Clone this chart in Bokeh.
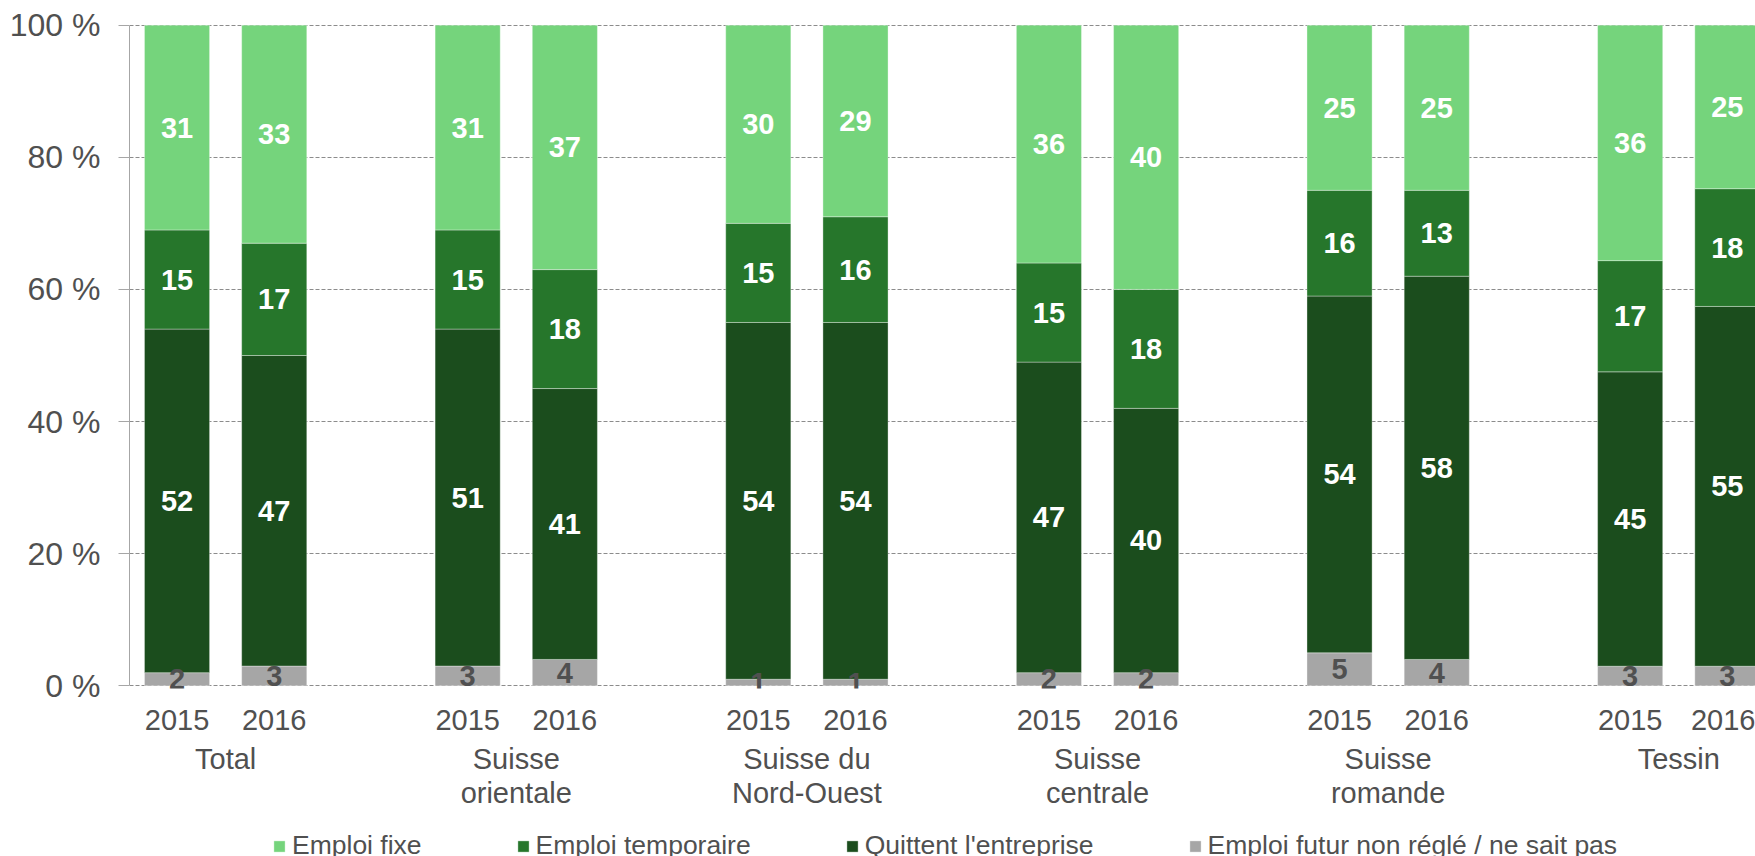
from bokeh.plotting import figure
from bokeh.models import (ColumnDataSource, LinearAxis, FixedTicker, Range1d,
                          Legend, LegendItem)
from bokeh.layouts import column
from bokeh.embed import file_html
from bokeh.resources import INLINE
from bokeh.core.properties import value

# ---------------- data ----------------
regions = ["Total", "Suisse\norientale", "Suisse du\nNord-Ouest",
           "Suisse\ncentrale", "Suisse\nromande", "Tessin"]
years = ["2015", "2016"]
series = ["Emploi fixe", "Emploi temporaire", "Quittent l'entreprise",
          "Emploi futur non réglé / ne sait pas"]

# one value per bar: Total 2015, Total 2016, S. orientale 2015, ...
non_regle = [2, 3, 3, 4, 1, 1, 2, 2, 5, 4, 3, 3]
quittent = [52, 47, 51, 41, 54, 54, 47, 40, 54, 58, 45, 55]
temporaire = [15, 17, 15, 18, 15, 16, 15, 18, 16, 13, 17, 18]
fixe = [31, 33, 31, 37, 30, 29, 36, 40, 25, 25, 36, 25]

y_ticks = [0, 20, 40, 60, 80, 100]

# ---------------- style / layout ----------------
COLORS = {"fixe": "#75D47C", "temp": "#26762B", "quit": "#1B4D1D", "nr": "#A6A6A6"}
TEXT = "#505050"
FONT = "Liberation Sans"
GROUP_STEP = 299   # x units between groups
BAR_STEP = 100     # x units between the two bars of a group
BAR_W = 67
PX_PER_UNIT = 0.972
FRAME_W = 1626
FRAME_H = 667
X0 = -48.9
MAIN_BOTTOM = 135
LEGEND_H = 39

xs, year_lab = [], []
for g in range(len(regions)):
    for k, yr in enumerate(years):
        xs.append(g * GROUP_STEP + k * BAR_STEP)
        year_lab.append(yr)
group_x = [g * GROUP_STEP + BAR_STEP // 2 for g in range(len(regions))]

# stack (normalised to 100 % as in a 100 % stacked chart)
layers = [("nr", non_regle), ("quit", quittent), ("temp", temporaire), ("fixe", fixe)]
totals = [sum(v[i] for _, v in layers) for i in range(len(xs))]

p = figure(frame_width=FRAME_W, frame_height=FRAME_H,
           output_backend="svg", toolbar_location=None,
           x_range=Range1d(X0, X0 + FRAME_W / PX_PER_UNIT),
           y_range=Range1d(-0.4, 100.55),
           x_axis_location=None, y_axis_location="left",
           min_border_left=129, min_border_right=0,
           min_border_top=21, min_border_bottom=MAIN_BOTTOM)
p.outline_line_color = None
p.background_fill_color = "white"
p.border_fill_color = "white"
p.xgrid.visible = False

p.ygrid.ticker = FixedTicker(ticks=y_ticks)
p.ygrid.grid_line_color = "#8C8C8C"
p.ygrid.grid_line_dash = "4 2"
p.ygrid.grid_line_width = 1

yax = p.yaxis[0]
yax.ticker = FixedTicker(ticks=y_ticks)
yax.major_label_overrides = {t: f"{t} %" for t in y_ticks}
yax.bounds = (0, 100)
yax.axis_line_color = "#A6A6A6"
yax.major_tick_line_color = "#A6A6A6"
yax.major_tick_out = 11
yax.major_tick_in = 0
yax.minor_tick_line_color = None
yax.major_label_standoff = 18
yax.major_label_text_font = FONT
yax.major_label_text_font_size = "32px"
yax.major_label_text_color = TEXT

sources = {}
bottom = [0.0] * len(xs)
lab_x, lab_y, lab_t, lab_c = [], [], [], []
for key, vals in layers:
    scaled = [v * 100.0 / t for v, t in zip(vals, totals)]
    top = [b + s for b, s in zip(bottom, scaled)]
    src = ColumnDataSource(dict(x=xs, bottom=bottom, top=top))
    sources[key] = src
    p.vbar(x="x", width=BAR_W, bottom="bottom", top="top", source=src,
           fill_color=COLORS[key], line_color="white", line_alpha=0.35,
           line_width=1)
    for i in range(len(xs)):
        lab_x.append(xs[i])
        lab_y.append((bottom[i] + top[i]) / 2)
        lab_t.append(str(vals[i]))
        lab_c.append(TEXT if key == "nr" else "white")
    bottom = top

lsrc = ColumnDataSource(dict(x=lab_x, y=lab_y, t=lab_t, c=lab_c))
p.text(x="x", y="y", text="t", source=lsrc, text_color="c",
       text_align="center", text_baseline="middle",
       text_font=value(FONT), text_font_style="bold", text_font_size="29px")

# year axis
year_axis = LinearAxis(ticker=FixedTicker(ticks=xs),
                       major_label_overrides={x: y for x, y in zip(xs, year_lab)})
# group axis
group_axis = LinearAxis(ticker=FixedTicker(ticks=group_x),
                        major_label_overrides={x: r for x, r in zip(group_x, regions)})
for ax, standoff in ((year_axis, 21), (group_axis, 10)):
    ax.axis_line_color = None
    ax.major_tick_line_color = None
    ax.minor_tick_line_color = None
    ax.major_tick_out = 0
    ax.major_tick_in = 0
    ax.major_label_standoff = standoff
    ax.major_label_text_font = FONT
    ax.major_label_text_font_size = "29px"
    ax.major_label_text_line_height = 1.08
    ax.major_label_text_color = TEXT
p.add_layout(year_axis, "below")
p.add_layout(group_axis, "below")

# ---------------- legend strip (same bar sources, plotted out of view) ----
lg = figure(width=129 + FRAME_W, height=LEGEND_H, output_backend="svg",
            toolbar_location=None, x_range=p.x_range, y_range=Range1d(200, 201),
            x_axis_location=None, y_axis_location=None,
            min_border_left=0, min_border_right=0, min_border_top=0,
            min_border_bottom=0)
lg.outline_line_color = None
lg.xgrid.visible = False
lg.ygrid.visible = False
items = []
for key, name in zip(["fixe", "temp", "quit", "nr"], series):
    r = lg.vbar(x="x", width=BAR_W, bottom="bottom", top="top",
                source=sources[key], fill_color=COLORS[key],
                line_color="white", line_alpha=0.35)
    items.append(LegendItem(label=name, renderers=[r]))
legend = Legend(items=items, orientation="horizontal", location=(143, 1),
                spacing=94, label_standoff=6, glyph_width=14, glyph_height=14,
                padding=0, margin=0, border_line_color=None,
                background_fill_alpha=0, label_text_font=FONT,
                label_text_font_size="26.5px", label_text_color=TEXT)
lg.add_layout(legend)

open("out.html", "w").write(file_html(column(p, lg, spacing=0), INLINE))
